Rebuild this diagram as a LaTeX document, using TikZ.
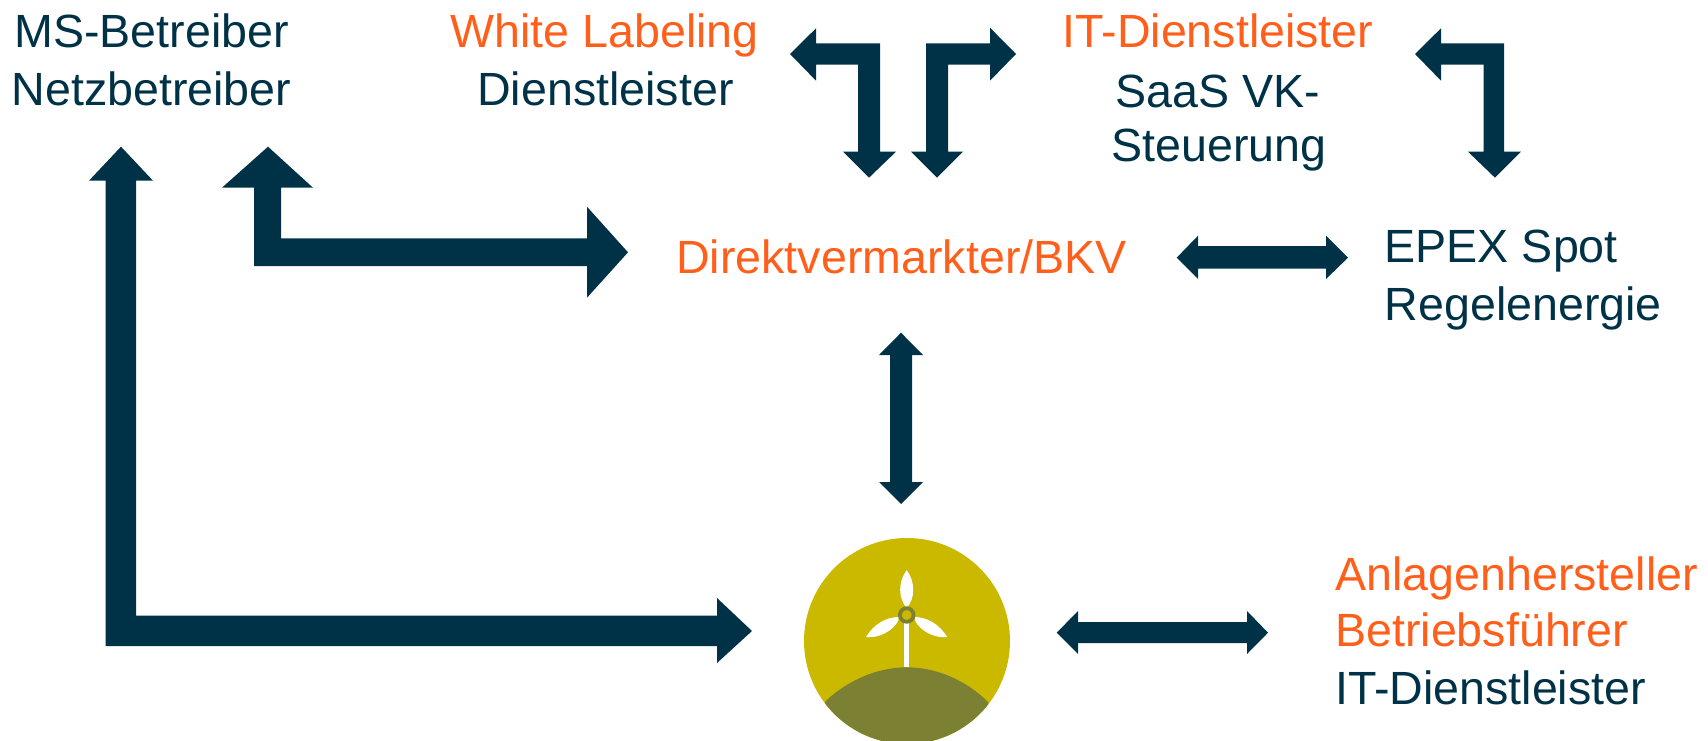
\documentclass[tikz,border=0pt]{standalone}
\usepackage{fontspec}
\setmainfont{Liberation Sans}
\definecolor{navy}{HTML}{003247}
\definecolor{orng}{HTML}{FF5F1A}
\definecolor{olive}{HTML}{CBB900}
\definecolor{hill}{HTML}{7C8032}
\tikzset{
  arrowshape/.style={fill=navy,draw=none},
  lab/.style={font=\fontsize{46.6}{46.6}\selectfont,inner sep=0pt,anchor=base,text=navy},
  hot/.style={lab,text=orng},
  blade/.style={fill=white,draw=none}
}
\begin{document}
\begin{tikzpicture}[x=1pt,y=-1pt]
\useasboundingbox (0,0) rectangle (1708,741);
% L-shaped double arrows
\fill[arrowshape] (790,54) -- (816,28.3) -- (816,43.3) -- (880,43.3) -- (880,151.7) -- (896,151.7) -- (869,177.7) -- (843,151.7) -- (858,151.7) -- (858,64.7) -- (816,64.7) -- (816,80.7) -- cycle;
\fill[arrowshape] (1016,54) -- (990,27.7) -- (990,43.3) -- (926,43.3) -- (926,151.7) -- (911,151.7) -- (937,177.7) -- (963,151.7) -- (948,151.7) -- (948,64.7) -- (990,64.7) -- (990,80.7) -- cycle;
\fill[arrowshape] (1415,54) -- (1441,28.3) -- (1441,43.3) -- (1504,43.3) -- (1504,151.7) -- (1521,151.7) -- (1495,177.7) -- (1468,151.7) -- (1483.5,151.7) -- (1483.5,64.7) -- (1441,64.7) -- (1441,80.7) -- cycle;
\fill[arrowshape] (121,146.7) -- (153,180.7) -- (136,180.7) -- (136,615.5) -- (717,615.5) -- (717,598) -- (752,631) -- (717,663) -- (717,646) -- (105.5,646) -- (105.5,180.7) -- (89,180.7) -- cycle;
\fill[arrowshape] (268,146.7) -- (313,187.7) -- (281,187.7) -- (281,238.3) -- (587,238.3) -- (587,206.7) -- (628,252.3) -- (587,297.7) -- (587,266) -- (254,266) -- (254,187.7) -- (222,187.7) -- cycle;
% straight double arrows
\fill[arrowshape] (1176.7,257.7) -- (1198,235.7) -- (1198,246) -- (1326,246) -- (1326,235.7) -- (1348,257.7) -- (1326,279) -- (1326,268.7) -- (1198,268.7) -- (1198,279) -- cycle;
\fill[arrowshape] (901,332.7) -- (923,355) -- (912,355) -- (912,482) -- (923,482) -- (901,504) -- (879,482) -- (890,482) -- (890,355) -- (879,355) -- cycle;
\fill[arrowshape] (1056.7,632.7) -- (1078,611) -- (1078,622) -- (1247,622) -- (1247,611) -- (1268,632.7) -- (1247,654) -- (1247,643) -- (1078,643) -- (1078,654) -- cycle;
% labels
\node[lab] (ms) at (151.5,48) {MS-Betreiber};
\node[lab] (nb) at (151.5,106) {Netzbetreiber};
\node[hot] (wl) at (604.5,48) {White Labeling};
\node[lab] (dl) at (605.5,106) {Dienstleister};
\node[hot] (it) at (1218,48) {IT-Dienstleister};
\node[lab] (saas) at (1218,108) {SaaS VK-};
\node[lab] (st) at (1219,161) {Steuerung};
\node[hot] (dv) at (901.5,273) {Direktvermarkter/BKV};
\node[lab,anchor=base west] (ep) at (1384.5,262) {EPEX Spot};
\node[lab,anchor=base west] (re) at (1384.5,320) {Regelenergie};
\node[hot,anchor=base west] (an) at (1335,590) {Anlagenhersteller};
\node[hot,anchor=base west] (bf) at (1335,646) {Betriebsführer};
\node[lab,anchor=base west] (itd) at (1335,704) {IT-Dienstleister};
% icon
\node[circle,fill=olive,draw=none,minimum size=206pt,inner sep=0pt] (icon) at (907,641) {};
\begin{scope}
\clip (907,641) circle (103);
\fill[hill] (825.7,701) .. controls (848,680) and (878,667.3) .. (906.7,667.3) .. controls (936,667.3) and (966,680) .. (988,702) -- (1010,760) -- (804,760) -- cycle;
\end{scope}
\fill[white] (904.4,615) rectangle (909,667.3);
\fill[blade] (906.7,570) .. controls (898,582) and (898,598) .. (906.7,608) .. controls (915.4,598) and (915.4,582) .. (906.7,570) -- cycle;
\fill[blade] (866,637) .. controls (874,624) and (886,617) .. (899,617) .. controls (899,626) and (882,639) .. (866,637) -- cycle;
\fill[blade] (947.3,637) .. controls (939,624) and (927,617) .. (914.4,617) .. controls (914.4,626) and (931,639) .. (947.3,637) -- cycle;
\draw[hill,line width=3.8pt,fill=olive] (906.7,615) circle (6.8);
\end{tikzpicture}
\end{document}
